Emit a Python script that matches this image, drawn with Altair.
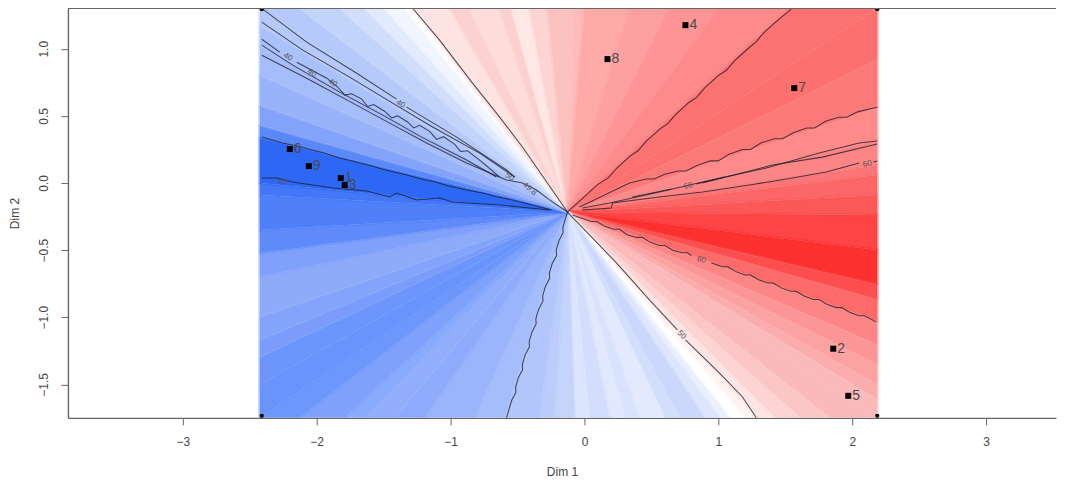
import altair as alt
import pandas as pd

CENTER = (-0.127, -0.216)
X_MIN, X_MAX, Y_MIN, Y_MAX = -2.425, 2.187, -1.749, 1.302

top_x = [-2.425,-2.127,-1.828,-1.642,-1.493,-1.343,-1.276,-1.007,-0.858,-0.634,-0.545,-0.410,-0.276,-0.075,0.0,0.336,0.634,1.007,1.530,2.187]
top_c = ["#b5cafb","#c3d4fb","#d0defc","#e2eafd","#f1f5fe","#fdfdff","#fde4e2","#fcd2d0","#fddcda","#fcd0ce","#fee8e6","#fcd4d2","#fcc2c0","#fdbbb9","#fdaaa8","#fda0a0","#fe9496","#fd8b8c","#fc7272"]
right_y = [1.302,0.915,0.558,0.320,0.134,0.060,-0.089,-0.238,-0.499,-0.759,-0.871,-1.034,-1.205,-1.354,-1.503,-1.615,-1.749]
right_c = ["#fc7070","#fc7979","#fe8a8a","#fc8585","#fb7777","#fb6767","#fb5858","#fd4545","#fd3030","#fc4e4e","#fc6a6a","#fc8585","#fc9595","#fba3a3","#fbacac","#fbbaba"]
bottom_x = [2.187,1.828,1.604,1.418,1.284,1.194,1.082,1.007,0.896,0.709,0.597,0.410,0.299,0.187,0.037,-0.075,-0.224,-0.336,-0.597,-0.821,-1.194,-1.418,-1.642,-1.791,-2.127,-2.425]
bottom_c = ["#fbbaba","#fcc6c6","#fdd4d3","#fee4e3","#fff3f2","#ffffff","#ebf0fe","#dde6fd","#cbd8fb","#d2defc","#e4eafd","#d9e3fd","#e2e9fd","#d3defc","#dce5fd","#c5d4fb","#bccdfc","#b2c6fb","#a6bdfb","#9ab5fb","#8fabfb","#92aefb","#8aabfb","#7ea2fb","#6d97fb"]
left_y = [-1.749,-1.503,-1.295,-1.168,-0.997,-0.699,-0.521,-0.350,-0.089,0.0,0.342,0.432,0.580,0.804,1.027,1.176,1.302]
left_c = ["#6994fb","#6c96fb","#7a9dfb","#84a4fb","#8eabfa","#80a1fb","#5f8bfa","#4f80fa","#4377f8","#2d68f5","#5a88f9","#83a3fa","#99b3fb","#a6bdfb","#aac1fb","#b5cafb"]

contours = {
 "a1": [(-1.284,1.302),(-1.082,1.064),(-0.836,0.744),(-0.657,0.521),(-0.463,0.268),(-0.127,-0.216)],
 "a2": [(-0.127,-0.216),(0.239,-0.595),(0.485,-0.871),(0.694,-1.094)],
 "a3": [(0.754,-1.168),(1.007,-1.414),(1.179,-1.592),(1.284,-1.749)],
 "b": [(-0.127,-0.216),(0.10,-0.01),(0.18,0.04),(0.24,0.11),(0.34,0.20),(0.40,0.24),(0.46,0.31),(0.56,0.40),(0.62,0.44),(0.68,0.51),(0.78,0.60),(0.84,0.64),(0.90,0.71),(1.0,0.80),(1.06,0.84),(1.12,0.91),(1.22,1.0),(1.28,1.05),(1.34,1.12),(1.44,1.21),(1.545,1.295)],
 "c": [(-0.037,-0.179),(0.336,0.0),(0.46,0.03),(0.52,0.03),(0.60,0.065),(0.70,0.09),(0.76,0.09),(0.84,0.13),(0.94,0.165),(1.0,0.165),(1.08,0.215),(1.18,0.25),(1.24,0.25),(1.32,0.30),(1.42,0.33),(1.48,0.33),(1.56,0.375),(1.66,0.41),(1.72,0.41),(1.80,0.46),(1.90,0.49),(1.96,0.49),(2.04,0.53),(2.12,0.55),(2.187,0.565)],
 "d": [(-0.015,-0.186),(0.187,-0.149),(0.560,-0.067),(0.881,0.007),(1.358,0.112),(1.754,0.223),(2.052,0.298),(2.187,0.313)],
 "d2": [(0.881,0.0),(1.403,0.134),(1.776,0.193),(2.187,0.290)],
 "e1": [(0.358,-0.104),(0.649,-0.045)],
 "e2": [(0.836,-0.007),(1.045,0.045)],
 "f": [(-0.015,-0.201),(0.201,-0.186),(0.209,-0.149),(0.560,-0.104),(0.881,-0.067),(1.231,-0.015),(1.552,0.037),(1.806,0.082),(2.052,0.149)],
 "f2": [(2.157,0.156),(2.187,0.164)],
 "g1": [(-0.090,-0.238),(0.05,-0.286),(0.09,-0.286),(0.15,-0.320),(0.22,-0.345),(0.26,-0.345),(0.32,-0.385),(0.39,-0.405),(0.43,-0.405),(0.49,-0.440),(0.56,-0.465),(0.60,-0.465),(0.66,-0.500),(0.73,-0.520),(0.77,-0.520),(0.799,-0.543)],
 "g2": [(0.948,-0.595),(1.03,-0.624),(1.07,-0.624),(1.13,-0.660),(1.2,-0.685),(1.24,-0.685),(1.30,-0.720),(1.37,-0.745),(1.41,-0.745),(1.47,-0.781),(1.54,-0.806),(1.58,-0.806),(1.64,-0.842),(1.71,-0.867),(1.75,-0.867),(1.81,-0.903),(1.88,-0.928),(1.92,-0.928),(1.98,-0.963),(2.05,-0.988),(2.09,-0.988),(2.179,-1.034)],
 "h": [(-0.127,-0.216),(-0.145,-0.275),(-0.161,-0.33),(-0.160,-0.37),(-0.191,-0.43),(-0.211,-0.50),(-0.208,-0.54),(-0.241,-0.60),(-0.262,-0.67),(-0.260,-0.71),(-0.292,-0.77),(-0.312,-0.84),(-0.310,-0.88),(-0.342,-0.94),(-0.363,-1.01),(-0.361,-1.05),(-0.392,-1.11),(-0.413,-1.18),(-0.411,-1.22),(-0.443,-1.28),(-0.464,-1.35),(-0.462,-1.39),(-0.494,-1.45),(-0.514,-1.52),(-0.512,-1.56),(-0.544,-1.62),(-0.565,-1.69),(-0.582,-1.749)],
 "i1": [(-2.403,1.295),(-2.075,1.049),(-1.701,0.818),(-1.403,0.625)],
 "i2": [(-1.328,0.565),(-0.955,0.342),(-0.582,0.097),(-0.522,0.045)],
 "j": [(-2.410,1.198),(-2.104,0.990),(-1.754,0.789),(-1.433,0.595),(-1.134,0.417),(-0.784,0.223),(-0.522,0.045)],
 "k1": [(-2.410,1.071),(-2.276,0.975)],
 "k2": [(-2.149,0.900),(-1.925,0.781),(-1.843,0.715),(-1.791,0.655),(-1.739,0.665),(-1.664,0.625),(-1.619,0.570),(-1.575,0.585),(-1.493,0.535),(-1.440,0.485),(-1.396,0.500),(-1.321,0.455),(-1.276,0.410),(-1.231,0.430),(-1.157,0.385),(-1.104,0.325),(-1.052,0.345),(-0.970,0.290),(-0.925,0.235),(-0.873,0.240),(-0.769,0.160),(-0.634,0.045)],
 "l": [(-2.410,1.027),(-2.179,0.878),(-1.828,0.677),(-1.507,0.506),(-1.216,0.342),(-0.881,0.171),(-0.657,0.045)],
 "m": [(-2.410,0.952),(-2.075,0.781),(-1.731,0.595),(-1.455,0.446),(-1.179,0.298),(-0.881,0.149),(-0.582,0.022),(-0.463,0.0),(-0.358,-0.052),(-0.261,-0.126),(-0.127,-0.216)],
 "n": [(-2.410,0.342),(-2.254,0.298),(-2.12,0.27),(-2.05,0.25),(-1.95,0.225),(-1.828,0.186),(-1.72,0.16),(-1.60,0.13),(-1.50,0.10),(-1.328,0.060),(-1.22,0.03),(-1.12,0.01),(-1.02,-0.02),(-0.881,-0.052),(-0.76,-0.075),(-0.66,-0.10),(-0.537,-0.126),(-0.246,-0.201)],
 "o": [(-2.410,0.037),(-2.299,0.037),(-2.179,0.007),(-1.881,-0.037),(-1.627,-0.060),(-1.455,-0.104),(-1.403,-0.074),(-1.254,-0.126),(-1.082,-0.112),(-0.985,-0.141),(-0.634,-0.164),(-0.261,-0.201)],
}

contour_labels = ["40","40","40","40","50","49.8","60","60","60","60","50"]
label_x = [-1.373,-2.216,-2.037,-1.881,-0.560,-0.410,-2.254,0.776,2.113,0.873,0.724]
label_y = [0.588,0.938,0.818,0.744,0.045,-0.045,0.007,-0.022,0.142,-0.573,-1.131]
label_angle = [32,32,32,32,32,40,0,345,345,18,48]

point_ids = ["1","2","3","4","5","6","7","8","9"]
point_x = [-1.820,1.858,-1.791,0.754,1.970,-2.201,1.567,0.172,-2.059]
point_y = [0.037,-1.234,-0.015,1.176,-1.585,0.253,0.707,0.923,0.126]
corner_x = [-2.410,2.187,-2.410,2.187]
corner_y = [1.295,1.295,-1.734,-1.734]

x_ticks = [-3,-2,-1,0,1,2,3]
y_ticks = [-1.5,-1.0,-0.5,0.0,0.5,1.0]

rows = []
wid = 0
def add(p1, p2, col):
    global wid
    for o, (a, b) in enumerate([CENTER, p1, p2]):
        rows.append(dict(x=a, y=b, o=o, w=wid, c=col))
    wid += 1
for i, col in enumerate(top_c):
    add((top_x[i], Y_MAX), (top_x[i+1], Y_MAX), col)
for i, col in enumerate(right_c):
    add((X_MAX, right_y[i]), (X_MAX, right_y[i+1]), col)
for i, col in enumerate(bottom_c):
    add((bottom_x[i], Y_MIN), (bottom_x[i+1], Y_MIN), col)
for i, col in enumerate(left_c):
    add((X_MIN, left_y[i]), (X_MIN, left_y[i+1]), col)
wedges = pd.DataFrame(rows)

crow = [dict(x=a, y=b, o=i, k=k) for k, pts in contours.items() for i, (a, b) in enumerate(pts)]
cont = pd.DataFrame(crow)
labels = pd.DataFrame(dict(x=label_x, y=label_y, t=contour_labels, a=label_angle))
points = pd.DataFrame(dict(x=point_x, y=point_y, t=point_ids))
corners = pd.DataFrame(dict(x=corner_x, y=corner_y))

W, H = 989, 410
xs = alt.Scale(domain=[-3.858, 3.522], nice=False, zero=False)
ys = alt.Scale(domain=[-1.749, 1.302], nice=False, zero=False)
AX = dict(grid=False, domainColor="#666666", tickColor="#666666", tickSize=7, domainWidth=1.4,
          labelColor="#444444", titleColor="#444444", labelFont="Liberation Sans", titleFont="Liberation Sans",
          labelFontSize=12, titleFontSize=12, titleFontWeight="normal")
x_axis = alt.Axis(values=x_ticks, format="d", labelPadding=12, titlePadding=19, **AX)
y_axis = alt.Axis(values=y_ticks, format=".1f", labelAngle=-90, labelAlign="center", labelBaseline="middle",
                  labelPadding=17, titlePadding=16, **AX)
X = alt.X("x:Q", scale=xs, title="Dim 1", axis=x_axis)
Y = alt.Y("y:Q", scale=ys, title="Dim 2", axis=y_axis)

wedge_layer = alt.Chart(wedges).mark_line(strokeWidth=3, strokeOpacity=0.5, strokeJoin="bevel", interpolate="linear", clip=True).encode(
    x=X, y=Y, order="o:Q", detail="w:N",
    fill=alt.Fill("c:N", scale=None), stroke=alt.Stroke("c:N", scale=None))
contour_layer = alt.Chart(cont).mark_line(color="#1f1f2a", strokeWidth=1.05, opacity=0.78).encode(
    x=X, y=Y, order="o:Q", detail="k:N")
label_layer = alt.Chart(labels).mark_text(font="Liberation Sans", fontSize=8, color="#555555").encode(
    x=X, y=Y, text="t:N", angle=alt.Angle("a:Q", scale=None))
square_layer = alt.Chart(points).mark_point(shape="square", filled=True, color="black", size=36, opacity=1).encode(x=X, y=Y)
num_layer = alt.Chart(points).mark_text(font="Liberation Sans", fontSize=14, color="#4a4a4a", align="left", dx=4).encode(
    x=X, y=Y, text="t:N")
corner_layer = alt.Chart(corners).mark_point(shape="circle", filled=True, color="black", size=18, opacity=1).encode(x=X, y=Y)
top_layer = alt.Chart(pd.DataFrame(dict(a=[-3.858], b=[3.522], y=[1.302]))).mark_rule(color="#666666", strokeWidth=1.4).encode(
    x=alt.X("a:Q", scale=xs, title="Dim 1", axis=x_axis), x2="b:Q", y=Y)

chart = alt.layer(wedge_layer, contour_layer, label_layer, square_layer, num_layer, corner_layer, top_layer).properties(
    width=W, height=H, padding={"top": -3, "left": 0, "right": 0, "bottom": 0}, background="white"
).configure_view(stroke=None)

chart.save("out.html", embed_options={"renderer": "svg", "actions": False})
